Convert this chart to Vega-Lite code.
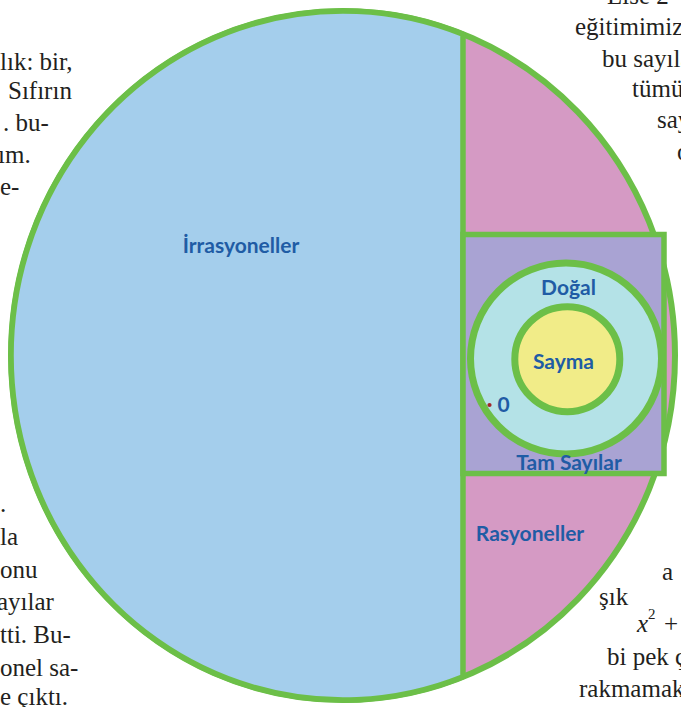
{
  "$schema": "https://vega.github.io/schema/vega-lite/v6.json",
  "width": 681,
  "height": 707,
  "padding": 0,
  "autosize": {"type": "none"},
  "background": "white",
  "config": {"view": {"stroke": null}},
  "datasets": {
    "page": [
      {"t": "lık: bir,", "x": 0, "y": 70, "s": "r"},
      {"t": "Sıfırın", "x": 8, "y": 99, "s": "r"},
      {"t": ". bu-", "x": 3, "y": 131, "s": "r"},
      {"t": "ım.", "x": -2, "y": 163, "s": "r"},
      {"t": "e-", "x": 0, "y": 195, "s": "r"},
      {"t": "Lise  2", "x": 607, "y": 4, "s": "r"},
      {"t": "eğitimimiz", "x": 575, "y": 35, "s": "r"},
      {"t": "bu sayıla", "x": 602, "y": 67, "s": "r"},
      {"t": "tümü", "x": 632, "y": 97, "s": "r"},
      {"t": "sayı", "x": 657, "y": 128, "s": "r"},
      {"t": "o", "x": 677, "y": 160, "s": "r"},
      {"t": ".", "x": 0, "y": 512, "s": "r"},
      {"t": "la", "x": 0, "y": 545, "s": "r"},
      {"t": "onu", "x": 0, "y": 578, "s": "r"},
      {"t": "ayılar", "x": -3, "y": 610, "s": "r"},
      {"t": "tti.  Bu-", "x": 0, "y": 643, "s": "r"},
      {"t": "onel sa-", "x": 0, "y": 676, "s": "r"},
      {"t": "e çıktı.", "x": 0, "y": 705, "s": "r"},
      {"t": "a", "x": 662, "y": 580, "s": "r"},
      {"t": "şık", "x": 599, "y": 605, "s": "r"},
      {"t": "x", "x": 637, "y": 632, "s": "i"},
      {"t": "2", "x": 648, "y": 619, "s": "sup"},
      {"t": "+", "x": 664, "y": 632, "s": "r"},
      {"t": "bi pek ç", "x": 607, "y": 665, "s": "r"},
      {"t": "rakmamak", "x": 579, "y": 697, "s": "r"}
    ],
    "sets": [
      {"set": "Reel", "x": 343, "y": 355.5},
      {"set": "İrrasyoneller", "x": 343, "y": 355.5},
      {"set": "Doğal", "x": 566, "y": 358.5},
      {"set": "Sayma", "x": 567.3, "y": 359.2},
      {"set": "0", "x": 489.5, "y": 405}
    ],
    "box": [
      {"set": "Tam Sayılar", "x": 463, "x2": 664, "y": 234.5, "y2": 473.5}
    ],
    "labels": [
      {"t": "İrrasyoneller", "x": 241, "y": 253},
      {"t": "Rasyoneller", "x": 530, "y": 541},
      {"t": "Doğal", "x": 568.5, "y": 295},
      {"t": "Sayma", "x": 563.5, "y": 369},
      {"t": "Tam Sayılar", "x": 569, "y": 470},
      {"t": "0", "x": 503.5, "y": 411.5}
    ]
  },
  "encoding": {
    "x": {"field": "x", "type": "quantitative", "scale": {"domain": [0, 681], "nice": false, "zero": false}, "axis": null},
    "y": {"field": "y", "type": "quantitative", "scale": {"domain": [0, 707], "nice": false, "zero": false, "reverse": true}, "axis": null}
  },
  "layer": [
    {
      "data": {"name": "page"},
      "transform": [{"filter": "datum.s == 'r'"}],
      "mark": {"type": "text", "align": "left", "baseline": "alphabetic", "font": "Liberation Serif", "fontSize": 25, "color": "#231f20", "clip": true},
      "encoding": {"text": {"field": "t"}}
    },
    {
      "data": {"name": "page"},
      "transform": [{"filter": "datum.s == 'i'"}],
      "mark": {"type": "text", "align": "left", "baseline": "alphabetic", "font": "Liberation Serif", "fontStyle": "italic", "fontSize": 25, "color": "#231f20", "clip": true},
      "encoding": {"text": {"field": "t"}}
    },
    {
      "data": {"name": "page"},
      "transform": [{"filter": "datum.s == 'sup'"}],
      "mark": {"type": "text", "align": "left", "baseline": "alphabetic", "font": "Liberation Serif", "fontSize": 15, "color": "#231f20", "clip": true},
      "encoding": {"text": {"field": "t"}}
    },
    {
      "data": {"name": "sets"},
      "transform": [{"filter": "datum.set == 'Reel'"}],
      "mark": {"type": "point", "shape": "M -1 0 A 1 1.0377 0 1 1 1 0 A 1 1.0377 0 1 1 -1 0 Z", "size": 440896, "filled": true, "fill": "#d59ac4", "stroke": "#6cbf48", "strokeWidth": 6, "opacity": 1}
    },
    {
      "data": {"name": "sets"},
      "transform": [{"filter": "datum.set == 'İrrasyoneller'"}],
      "mark": {"type": "point", "shape": "M 0.3614 -0.9676 A 1 1.0377 0 1 0 0.3614 0.9676 Z", "size": 440896, "filled": true, "fill": "#a4ceec", "stroke": "#6cbf48", "strokeWidth": 5.5, "opacity": 1}
    },
    {
      "data": {"name": "box"},
      "mark": {"type": "rect", "fill": "#a9a3d3", "stroke": "#6cbf48", "strokeWidth": 5.5},
      "encoding": {"x2": {"field": "x2"}, "y2": {"field": "y2"}}
    },
    {
      "data": {"name": "sets"},
      "transform": [{"filter": "datum.set == 'Doğal'"}],
      "mark": {"type": "point", "shape": "circle", "size": 36481, "filled": true, "fill": "#b4e2e7", "stroke": "#6cbf48", "strokeWidth": 7, "opacity": 1}
    },
    {
      "data": {"name": "sets"},
      "transform": [{"filter": "datum.set == 'Sayma'"}],
      "mark": {"type": "point", "shape": "circle", "size": 11025, "filled": true, "fill": "#f1ec88", "stroke": "#6cbf48", "strokeWidth": 7, "opacity": 1}
    },
    {
      "data": {"name": "sets"},
      "transform": [{"filter": "datum.set == '0'"}],
      "mark": {"type": "point", "shape": "circle", "size": 18, "filled": true, "fill": "#a3262a", "opacity": 1}
    },
    {
      "data": {"name": "labels"},
      "mark": {"type": "text", "align": "center", "baseline": "alphabetic", "font": "Lato", "fontWeight": "bold", "fontSize": 21, "color": "#1f5ca5"},
      "encoding": {"text": {"field": "t"}}
    }
  ]
}
